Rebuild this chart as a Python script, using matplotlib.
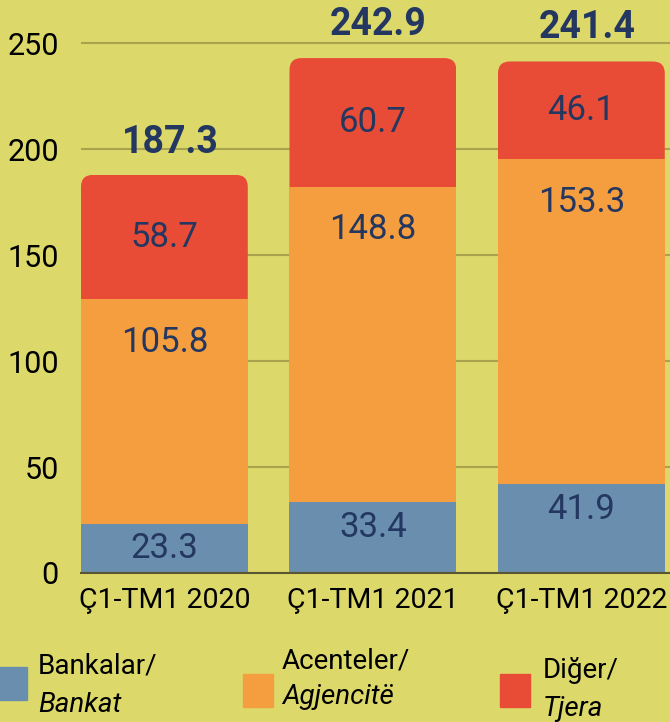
import numpy as np
import matplotlib
matplotlib.use("Agg")
import matplotlib.pyplot as plt
from matplotlib.patches import FancyBboxPatch, Rectangle

plt.rcParams['font.family'] = ['Roboto', 'DejaVu Sans']

categories = ['Ç1-TM1 2020', 'Ç1-TM1 2021', 'Ç1-TM1 2022']
bankat = [23.3, 33.4, 41.9]
agjencite = [105.8, 148.8, 153.3]
tjera = [58.7, 60.7, 46.1]
totals = [187.3, 242.9, 241.4]
series_names = [('Bankalar/', 'Bankat'), ('Acenteler/', 'Agjencitë'), ('Diğer/', 'Tjera')]

BG = '#dcd96a'
C_BLUE = '#6a8fae'
C_ORANGE = '#f59e3f'
C_RED = '#e94c36'
NAVY = '#243760'
GRID = '#a9a34f'

fig = plt.figure(figsize=(6.7, 7.22), dpi=100, facecolor=BG)
ax = fig.add_axes([81 / 670, 149 / 722, 589 / 670, 573 / 722])
ax.set_facecolor(BG)

x = np.arange(len(categories))
w = 0.8
b_blue = np.array(bankat)
b_orange = b_blue + np.array(agjencite)

bars_blue = ax.bar(x, bankat, w, color=C_BLUE, zorder=2)
bars_orange = ax.bar(x, agjencite, w, bottom=b_blue, color=C_ORANGE, zorder=2)
bars_red = ax.bar(x, tjera, w, bottom=b_orange, color=C_RED, zorder=2)

ax.set_xlim(-0.4, 2.425)
ax.set_ylim(0, 270.3)

# rounded top corners on the stack
fig.canvas.draw()
px_x = ax.transData.transform((1, 0))[0] - ax.transData.transform((0, 0))[0]
px_y = ax.transData.transform((0, 1))[1] - ax.transData.transform((0, 0))[1]
r = 12 / px_x
for rect in bars_red:
    rx, ry = rect.get_x(), rect.get_y()
    clip = FancyBboxPatch((rx, ry - 30), rect.get_width(), rect.get_height() + 30,
                          boxstyle=f"round,pad=0,rounding_size={r}",
                          mutation_aspect=px_x / px_y, transform=ax.transData)
    rect.set_clip_path(clip)

# segment labels
for rect, v in zip(bars_blue, bankat):
    ax.annotate(f'{v}', (rect.get_x() + w / 2, rect.get_y() + rect.get_height()),
                xytext=(0, -18), textcoords='offset points', ha='center', va='center',
                fontsize=25, color=NAVY, zorder=4)
for rect, v in zip(bars_orange, agjencite):
    ax.annotate(f'{v}', (rect.get_x() + w / 2, rect.get_y() + rect.get_height()),
                xytext=(0, -31), textcoords='offset points', ha='center', va='center',
                fontsize=25, color=NAVY, zorder=4)
for rect, v in zip(bars_red, tjera):
    ax.annotate(f'{v}', (rect.get_x() + w / 2, rect.get_y() + rect.get_height() / 2),
                ha='center', va='center', fontsize=25, color=NAVY, zorder=4)

# totals
for xi, t in zip(x, totals):
    ax.annotate(f'{t}', (xi, t), xytext=(4, 24), textcoords='offset points',
                ha='center', va='center', fontsize=27, fontweight='bold',
                color=NAVY, zorder=4)

ax.set_yticks([0, 50, 100, 150, 200, 250])
ax.yaxis.grid(True, color=GRID, linewidth=1.5, zorder=0)
ax.set_axisbelow(True)
ax.set_xticks(x)
ax.set_xticklabels(categories)
ax.tick_params(axis='y', length=0, pad=16, labelsize=22, labelcolor='black')
ax.tick_params(axis='x', length=0, pad=10, labelsize=20.5, labelcolor='black')
for s in ['top', 'right', 'left']:
    ax.spines[s].set_visible(False)
ax.spines['bottom'].set_color('#5b5632')
ax.spines['bottom'].set_linewidth(1.5)
ax.spines['bottom'].set_zorder(3)

# legend
W, H = 670, 722
legend_spec = [
    (C_BLUE, -3, 667, 38, 666, 705),
    (C_ORANGE, 243, 674, 282, 661, 697),
    (C_RED, 500, 674, 543, 671, 709),
]
for (color, sx, sy, tx, ty1, ty2), (name1, name2) in zip(legend_spec, series_names):
    fig.add_artist(Rectangle((sx / W, 1 - (sy + 33) / H), 30 / W, 33 / H,
                             transform=fig.transFigure, color=color))
    fig.text(tx / W, 1 - ty1 / H, name1, fontsize=20, va='center', ha='left')
    fig.text(tx / W, 1 - ty2 / H, name2, fontsize=20, va='center', ha='left',
             style='italic')

fig.savefig('out.png', dpi=100, facecolor=BG)
